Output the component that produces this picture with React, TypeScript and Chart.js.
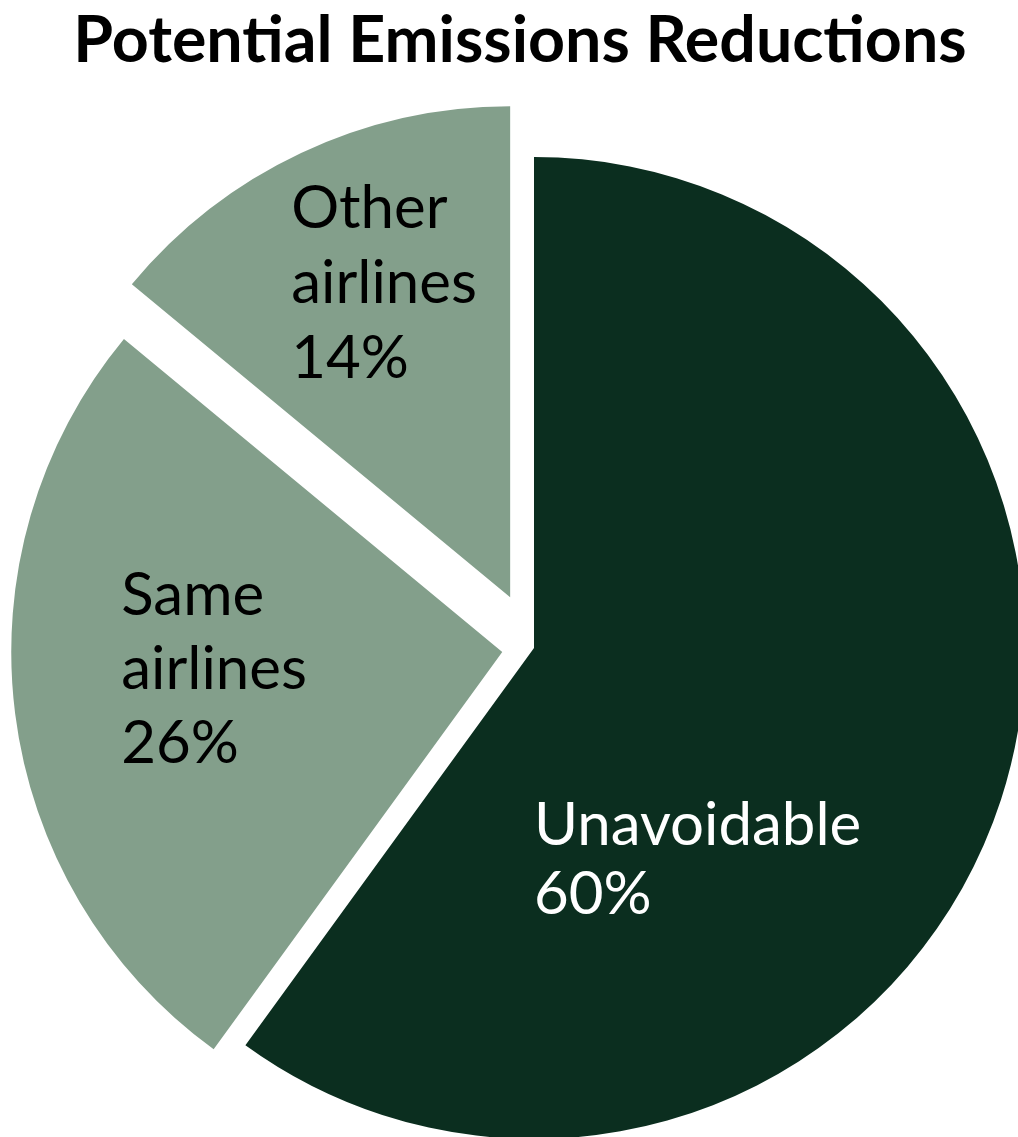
import React, { useEffect, useRef } from "react";
import { Chart, registerables } from "chart.js";

Chart.register(...registerables);

// ---- data ----
const TITLE = "Potential Emissions Reductions";
const CATEGORIES = ["Unavoidable", "Same airlines", "Other airlines"];
const VALUES = [60, 26, 14];
const LABEL_LINES = [
  ["Unavoidable", "60%"],
  ["Same", "airlines", "26%"],
  ["Other", "airlines", "14%"],
];

// ---- styles ----
const COLORS = ["#0b2e1f", "#839f8b", "#839f8b"];
const LABEL_COLORS = ["#ffffff", "#000000", "#000000"];
const EXPLODE_PX = [0, 32, 56];
// label anchor (left x, first baseline) relative to slice center, in radius units
const LABEL_ANCHORS = [
  { dx: 0.0, dy: 0.401, lh: 69 },
  { dx: -0.776, dy: -0.075, lh: 74 },
  { dx: -0.446, dy: -0.752, lh: 75 },
];
const FONT_FAMILY = "Lato, 'Noto Sans', sans-serif";
const LABEL_FONT = `60px ${FONT_FAMILY}`;
const TITLE_SIZE = 64.5;

const explodePlugin = {
  id: "explodeSlices",
  afterDatasetUpdate(chart: any, args: any) {
    const meta = args.meta;
    meta.data.forEach((arc: any, i: number) => {
      const d = EXPLODE_PX[i] || 0;
      if (!d) return;
      const mid = (arc.startAngle + arc.endAngle) / 2;
      arc.x += Math.cos(mid) * d;
      arc.y += Math.sin(mid) * d;
    });
  },
};

const labelPlugin = {
  id: "sliceLabels",
  afterDatasetsDraw(chart: any) {
    const ctx = chart.ctx;
    const meta = chart.getDatasetMeta(0);
    ctx.save();
    ctx.font = LABEL_FONT;
    ctx.textAlign = "left";
    ctx.textBaseline = "alphabetic";
    meta.data.forEach((arc: any, i: number) => {
      const a = LABEL_ANCHORS[i];
      const r = arc.outerRadius;
      const x = arc.x + a.dx * r;
      const y = arc.y + a.dy * r;
      ctx.fillStyle = LABEL_COLORS[i];
      LABEL_LINES[i].forEach((line, j) => {
        ctx.fillText(line, x, y + j * a.lh);
      });
    });
    ctx.restore();
  },
};

export default function App() {
  const canvasRef = useRef<HTMLCanvasElement | null>(null);

  useEffect(() => {
    if (!canvasRef.current) return;
    const chart = new Chart(canvasRef.current, {
      type: "pie",
      data: {
        labels: CATEGORIES,
        datasets: [
          {
            data: VALUES,
            backgroundColor: COLORS,
            borderWidth: 0,
            clip: false as any,
          } as any,
        ],
      },
      options: {
        responsive: false,
        animation: false,
        radius: 491,
        layout: { padding: { left: 50, top: 159, right: 0, bottom: 0 } },
        plugins: {
          legend: { display: false },
          title: { display: false },
          tooltip: { enabled: false },
        },
        events: [],
      } as any,
      plugins: [explodePlugin, labelPlugin],
    });
    return () => chart.destroy();
  }, []);

  return (
    <div
      style={{
        position: "fixed",
        top: 0,
        left: 0,
        width: 1018,
        height: 1137,
        background: "#ffffff",
        overflow: "hidden",
      }}
    >
      <canvas
        ref={canvasRef}
        width={1018}
        height={1137}
        style={{ position: "absolute", top: 0, left: 0, width: 1018, height: 1137 }}
      />
      <div
        style={{
          position: "absolute",
          top: -1,
          left: 0,
          width: 1040,
          textAlign: "center",
          fontFamily: FONT_FAMILY,
          fontWeight: 700,
          fontSize: TITLE_SIZE,
          lineHeight: `${Math.round(TITLE_SIZE * 1.2)}px`,
          color: "#000000",
          whiteSpace: "nowrap",
        }}
      >
        {TITLE}
      </div>
    </div>
  );
}
